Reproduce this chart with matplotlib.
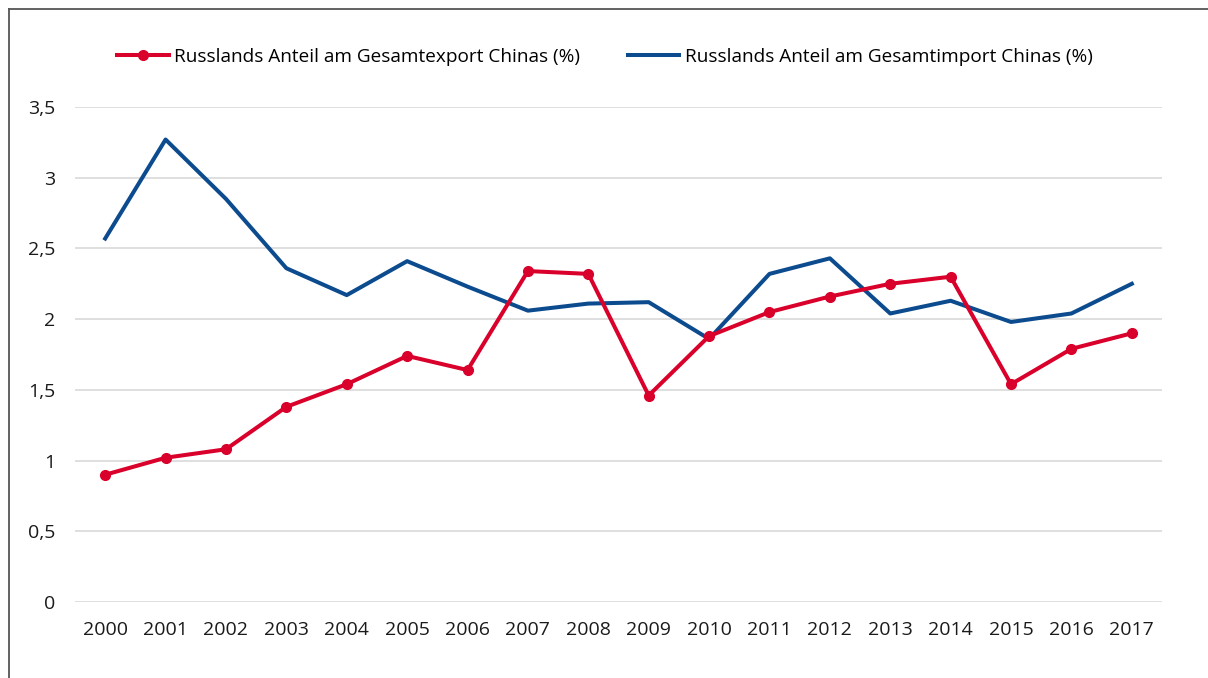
import matplotlib.pyplot as plt
from matplotlib.lines import Line2D

plt.rcParams['font.family'] = ['Open Sans', 'DejaVu Sans']

# Data
years = [str(y) for y in range(2000, 2018)]
export_share = [0.90, 1.02, 1.08, 1.38, 1.54, 1.74, 1.64, 2.34, 2.32, 1.46,
                1.88, 2.05, 2.16, 2.25, 2.30, 1.54, 1.79, 1.90]
import_share = [2.57, 3.27, 2.85, 2.36, 2.17, 2.41, 2.23, 2.06, 2.11, 2.12,
                1.86, 2.32, 2.43, 2.04, 2.13, 1.98, 2.04, 2.25]
yticks = [0, 0.5, 1, 1.5, 2, 2.5, 3, 3.5]
ytick_labels = ['0', '0,5', '1', '1,5', '2', '2,5', '3', '3,5']
label_export = 'Russlands Anteil am Gesamtexport Chinas (%)'
label_import = 'Russlands Anteil am Gesamtimport Chinas (%)'

red = '#d9002b'
blue = '#0b4b8e'

fig = plt.figure(figsize=(12.08, 6.78), dpi=100)
ax = fig.add_axes([75 / 1208, 1 - 602 / 678, 1087 / 1208, 495 / 678])

x = list(range(len(years)))
ax.plot(x, import_share, color=blue, linewidth=2.9, zorder=3)
ax.plot(x, export_share, color=red, linewidth=2.9, marker='o', markersize=7,
        zorder=4)

ax.set_xlim(-0.5, len(years) - 0.5)
ax.set_ylim(0, 3.5)
ax.set_yticks(yticks)
ax.set_yticklabels(ytick_labels)
ax.set_xticks(x)
ax.set_xticklabels(years)
ax.tick_params(axis='both', length=0, labelsize=14, colors='#1a1a1a')
ax.tick_params(axis='y', pad=14)
ax.tick_params(axis='x', pad=14)
ax.grid(axis='y', color='#d9d9d9', linewidth=1.2)
ax.set_axisbelow(True)
for s in ax.spines.values():
    s.set_visible(False)

# Legend
handles = [Line2D([], [], color=red, linewidth=2.9, marker='o', markersize=7),
           Line2D([], [], color=blue, linewidth=2.9)]
fig.legend(handles, [label_export, label_import], loc='center',
           bbox_to_anchor=(605 / 1208, 1 - 57 / 678), ncol=2, frameon=False,
           fontsize=13.7, handlelength=2.7, handletextpad=0.3, columnspacing=2.5)

# Outer frame (left and top)
fig.add_artist(Line2D([9 / 1208, 9 / 1208], [0, 1 - 9 / 678], color='#555555',
                      linewidth=1.3, transform=fig.transFigure))
fig.add_artist(Line2D([9 / 1208, 1], [1 - 9 / 678, 1 - 9 / 678], color='#555555',
                      linewidth=1.3, transform=fig.transFigure))

fig.savefig('out.png', dpi=100)
